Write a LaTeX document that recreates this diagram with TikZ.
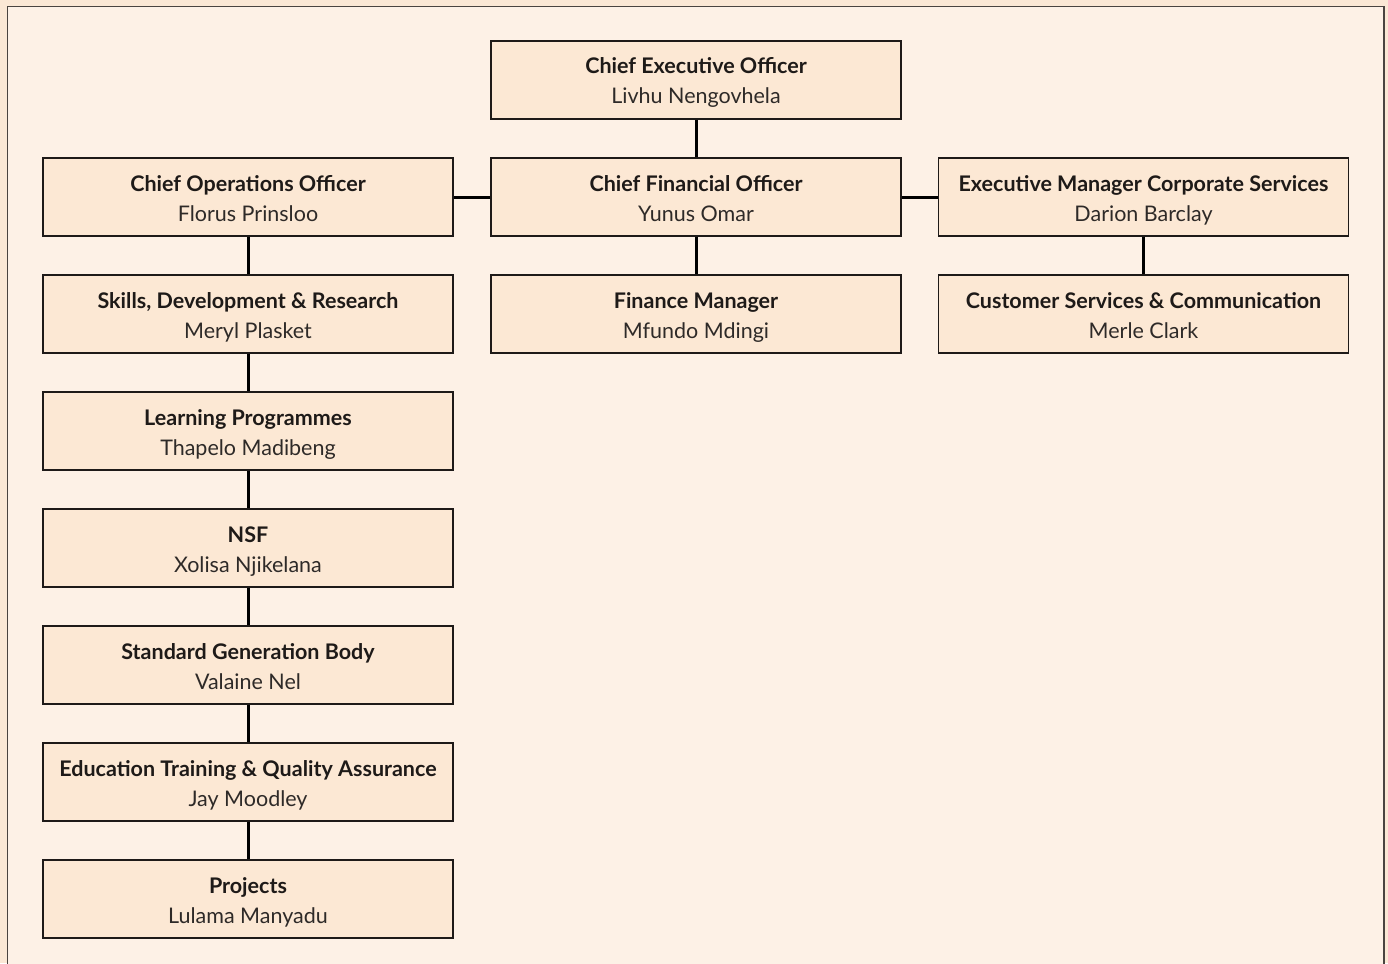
\documentclass[tikz,border=0pt]{standalone}
\usepackage{fontspec}
\setmainfont{Lato}
\definecolor{outerbg}{HTML}{FBE8D5}
\definecolor{innerbg}{HTML}{FDF1E6}
\definecolor{boxfill}{HTML}{FCE8D4}
\definecolor{framecol}{HTML}{4A4440}
\definecolor{txt}{HTML}{1E1A18}
\definecolor{ptxt}{HTML}{2E2A28}
\tikzset{
  orgbox/.style={draw=txt, line width=1.4pt, fill=boxfill, minimum width=410pt, minimum height=78pt, inner sep=0pt},
  title/.style={font=\fontsize{21.5}{24}\selectfont\bfseries, text=txt, anchor=base, inner sep=0pt},
  person/.style={font=\fontsize{21.5}{24}\selectfont, text=ptxt, anchor=base, inner sep=0pt},
  link/.style={draw=black, line width=3pt}
}
\begin{document}
\begin{tikzpicture}[x=1pt,y=-1pt]
\useasboundingbox (0,0) rectangle (1388,963);
\fill[outerbg] (0,0) rectangle (1388,963);
\fill[innerbg] (7.5,6.5) rectangle (1384,970);
\draw[framecol, line width=1.6pt] (7.5,970) -- (7.5,6.5) -- (1384,6.5) -- (1384,970);

% helper: box with title and name
\newcommand{\orgnode}[5]{%
  \node[orgbox] (#1) at (#2,#3) {};
  \node[title] (#1t) at (#2,#3-6) {#4};
  \node[person] (#1p) at (#2,#3+24) {#5};
}
\def\cl{248}\def\cc{696}\def\cr{1143.5}

\orgnode{ceo}{\cc}{80}{Chief Executive Officer}{Livhu Nengovhela}
\orgnode{coo}{\cl}{197}{Chief Operations Officer}{Florus Prinsloo}
\orgnode{cfo}{\cc}{197}{Chief Financial Officer}{Yunus Omar}
\orgnode{emcs}{\cr}{197}{Executive Manager Corporate Services}{Darion Barclay}
\orgnode{sdr}{\cl}{314}{Skills, Development \& Research}{Meryl Plasket}
\orgnode{fm}{\cc}{314}{Finance Manager}{Mfundo Mdingi}
\orgnode{csc}{\cr}{314}{Customer Services \& Communication}{Merle Clark}
\orgnode{lp}{\cl}{431}{Learning Programmes}{Thapelo Madibeng}
\orgnode{nsf}{\cl}{548}{NSF}{Xolisa Njikelana}
\orgnode{sgb}{\cl}{665}{Standard Generation Body}{Valaine Nel}
\orgnode{etqa}{\cl}{782}{Education Training \& Quality Assurance}{Jay Moodley}
\orgnode{proj}{\cl}{899}{Projects}{Lulama Manyadu}

\draw[link] (ceo.south) -- (cfo.north);
\draw[link] (cfo.west) -- (coo.east);
\draw[link] (cfo.east) -- (emcs.west);
\draw[link] (cfo.south) -- (fm.north);
\draw[link] (emcs.south) -- (csc.north);
\draw[link] (coo.south) -- (sdr.north);
\draw[link] (sdr.south) -- (lp.north);
\draw[link] (lp.south) -- (nsf.north);
\draw[link] (nsf.south) -- (sgb.north);
\draw[link] (sgb.south) -- (etqa.north);
\draw[link] (etqa.south) -- (proj.north);
\end{tikzpicture}
\end{document}
